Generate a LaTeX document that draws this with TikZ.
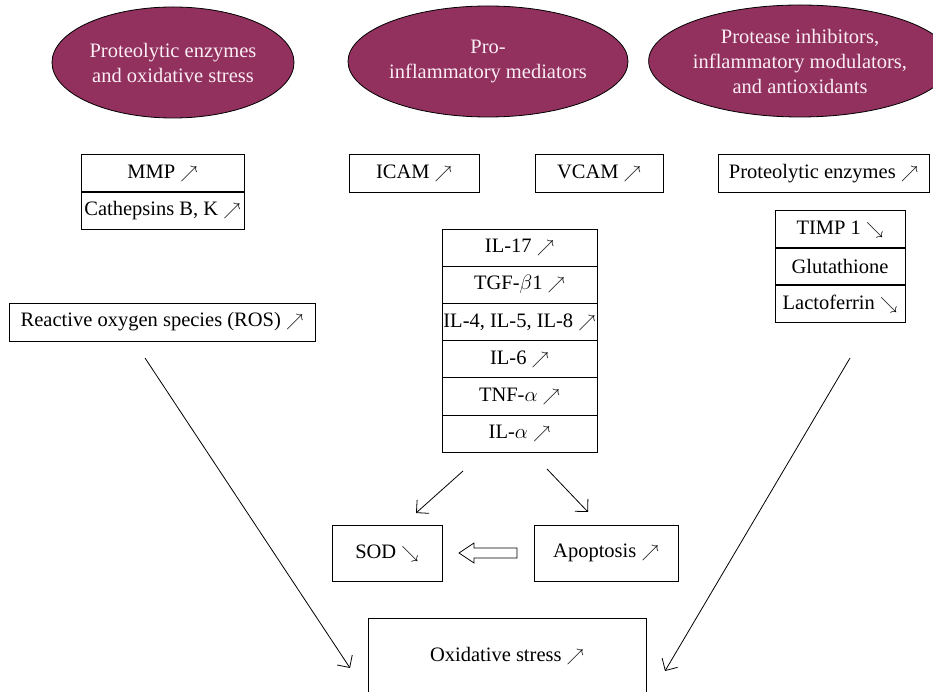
\documentclass[tikz,border=0pt]{standalone}
\usepackage{fontspec}
\setmainfont{Liberation Serif}
\usetikzlibrary{shapes.geometric,arrows.meta}
\definecolor{plum}{RGB}{146,48,94}
\definecolor{paletext}{RGB}{250,238,244}
\newcommand\incr{{\fontsize{16.5}{16}\selectfont$\nearrow$}}
\newcommand\decr{{\fontsize{16.5}{16}\selectfont$\searrow$}}
\begin{document}
\begin{tikzpicture}[x=1pt,y=-1pt,
  font=\fontsize{20.5}{25}\selectfont,
  bubble/.style={ellipse, draw=black, line width=0.8pt, fill=plum, text=paletext, align=center, inner sep=0pt},
  cell/.style={draw, line width=0.8pt, minimum height=37.2pt, inner sep=0pt},
  arr/.style={-{Straight Barb[length=9pt,width=18pt]}, line width=0.8pt}]
\clip (0,0) rectangle (933,692);
\fill[white] (0,0) rectangle (933,692);

% ellipses
\node[bubble, minimum width=242pt, minimum height=111pt] (e1) at (173,62.5) {Proteolytic enzymes\\and oxidative stress};
\node[bubble, minimum width=280pt, minimum height=111pt] (e2) at (488,61.5) {Pro-\\inflammatory mediators};
\node[bubble, minimum width=274pt, minimum height=112pt] (e3) at (800,61) {Protease inhibitors,\\inflammatory modulators,\\and antioxidants};

% left column
\node[cell, minimum width=163pt] (mmp) at (162.5,173.5) {MMP \incr};
\node[cell, minimum width=163pt] (cat) at (162.5,210.5) {Cathepsins B, K \incr};
\node[cell, minimum width=306pt, minimum height=38pt] (ros) at (162,322) {Reactive oxygen species (ROS) \incr};

% middle
\node[cell, minimum width=130pt] (icam) at (414,173.5) {ICAM \incr};
\node[cell, minimum width=128pt] (vcam) at (599,173.5) {VCAM \incr};

\node[cell, minimum width=155pt] (il17) at (519.5,247.6) {IL-17 \incr};
\node[cell, minimum width=155pt] (tgf)  at (519.5,284.8) {TGF-$\beta$1 \incr};
\node[cell, minimum width=155pt] (il4)  at (519.5,322.0) {IL-4, IL-5, IL-8 \incr};
\node[cell, minimum width=155pt] (il6)  at (519.5,359.2) {IL-6 \incr};
\node[cell, minimum width=155pt] (tnf)  at (519.5,396.4) {TNF-$\alpha$ \incr};
\node[cell, minimum width=155pt] (ila)  at (519.5,433.6) {IL-$\alpha$ \incr};

% right column
\node[cell, minimum width=211pt] (prot) at (823.5,173.5) {Proteolytic enzymes \incr};
\node[cell, minimum width=130pt] (timp) at (840,229.5) {TIMP 1 \decr};
\node[cell, minimum width=130pt] (glu)  at (840,266.5) {Glutathione};
\node[cell, minimum width=130pt] (lac)  at (840,303.5) {Lactoferrin \decr};

% bottom
\node[cell, minimum width=110pt, minimum height=56pt] (sod) at (387,553) {SOD \decr};
\node[cell, minimum width=144pt, minimum height=56pt] (apo) at (606,553) {Apoptosis \incr};
\node[cell, minimum width=278pt, minimum height=76pt] (ox) at (507,656) {Oxidative stress \incr};

% hollow arrow from Apoptosis to SOD
\draw[line width=0.8pt, fill=white] (517,548) -- (474,548) -- (474,543) -- (459,553) -- (474,563) -- (474,558) -- (517,558) -- cycle;

% connectors
\coordinate (a1s) at (463,471); \coordinate (a1e) at (416,513);
\coordinate (a2s) at (547,469); \coordinate (a2e) at (588,512);
\coordinate (a3s) at (145,358); \coordinate (a3e) at (350,668);
\coordinate (a4s) at (850,358); \coordinate (a4e) at (665,671);
\draw[arr] (a1s) -- (a1e);
\draw[arr] (a2s) -- (a2e);
\draw[arr] (a3s) -- (a3e);
\draw[arr] (a4s) -- (a4e);
\end{tikzpicture}
\end{document}
